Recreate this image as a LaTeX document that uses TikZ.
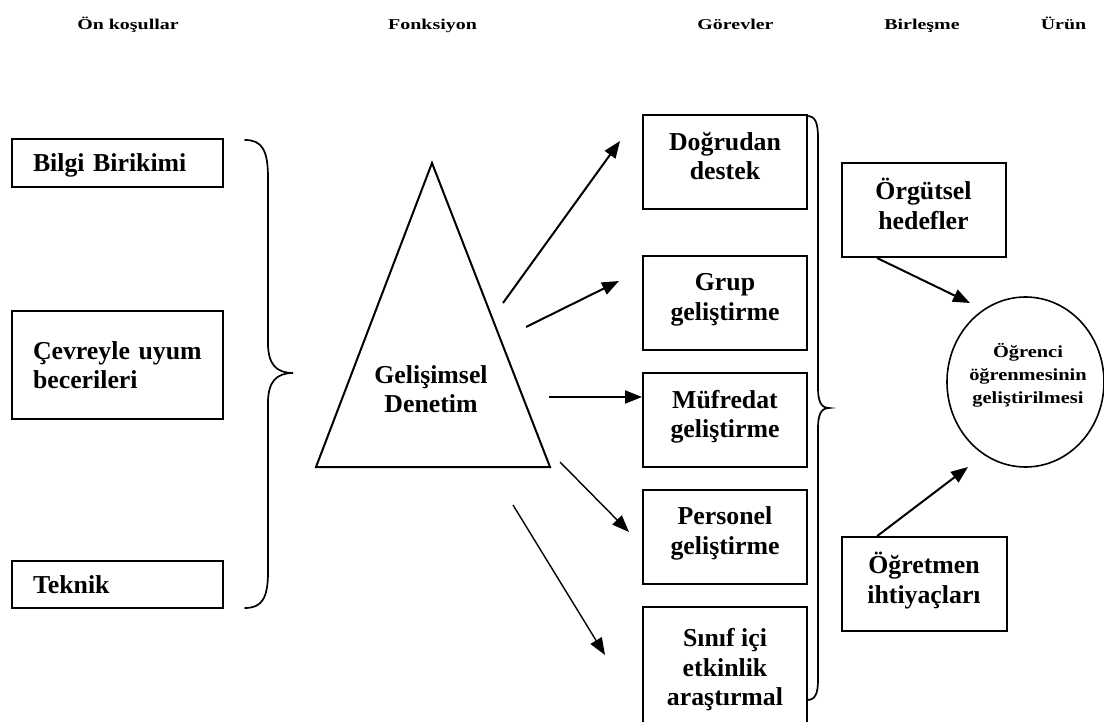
\documentclass[tikz,border=0pt]{standalone}
\usepackage{fontspec}
\setmainfont{Liberation Serif}
\usepackage{graphicx}
\usetikzlibrary{arrows.meta,shapes.geometric,calc}

% type sizes
\newcommand\boxfont{\fontsize{25.8pt}{29.5pt}\selectfont\bfseries}
\newcommand\headfont{\fontsize{15pt}{18pt}\selectfont\bfseries}
\newcommand\goalfont{\fontsize{17pt}{23pt}\selectfont\bfseries}
\newcommand\headwide[1]{\scalebox{1.33}[1]{#1}}
\newcommand\goalwide[1]{\scalebox{1.2}[1]{#1}}
% extra depth on the last line lifts the text block inside its box
\newcommand\lowstrut{\rule[-12pt]{0pt}{12pt}}

\begin{document}
\begin{tikzpicture}[x=1pt,y=-1pt,
  head/.style={font=\headfont, anchor=base, inner sep=0pt},
  frame/.style={draw, line width=2pt, inner sep=0pt, font=\boxfont},
  leftbox/.style={frame, minimum width=211pt, text width=169pt, align=left},
  taskbox/.style={frame, minimum width=164pt, minimum height=94pt, align=center},
  arr/.style={line width=2pt, -{Triangle[length=17pt,width=13pt]}},
  thinarr/.style={arr, line width=1.4pt},
  brace/.style={line width=1.7pt, line cap=round}]

\useasboundingbox (0,0) rectangle (1104,722);
\fill[white] (0,0) rectangle (1104,722);

% column headings
\node[head] (hpre)  at (128,30)    {\headwide{Ön koşullar}};
\node[head] (hfun)  at (432.5,30)  {\headwide{Fonksiyon}};
\node[head] (htask) at (735.5,30)  {\headwide{Görevler}};
\node[head] (hjoin) at (922,30)    {\headwide{Birleşme}};
\node[head] (hprod) at (1063.5,30) {\headwide{Ürün}};

% prerequisites
\node[leftbox, minimum height=48pt, text depth=0pt] (bilgi) at (117.5,163) {Bilgi Birikimi};
\node[leftbox, minimum height=108pt] (cevre) at (117.5,365) {Çevreyle uyum\\becerileri};
\node[leftbox, minimum height=47pt] (teknik) at (117.5,584.5) {Teknik};

% left brace
\draw[brace] (245,140) .. controls (262,140) and (268,150) .. (268,178)
  -- (268,343) .. controls (268,364) and (276,373) .. (293,373)
  .. controls (276,373) and (268,382) .. (268,403)
  -- (268,572) .. controls (268,598) and (262,608) .. (245,608);

% function triangle
\coordinate (apex) at (432,163);
\coordinate (bl) at (316,467);
\coordinate (br) at (550,467);
\draw[line width=2pt, line join=miter] (apex) -- (bl) -- (br) -- cycle;
\node[font=\boxfont, align=center] (func) at (431,389) {Gelişimsel\\Denetim};

% tasks
\node[taskbox] (t1) at (725,162)   {Doğrudan\\destek\lowstrut};
\node[taskbox] (t2) at (725,303)   {Grup\\geliştirme\lowstrut};
\node[taskbox] (t3) at (725,420)   {Müfredat\\geliştirme\lowstrut};
\node[taskbox] (t4) at (725,536.5) {Personel\\geliştirme\lowstrut};
\node[taskbox, minimum height=132pt] (t5) at (725,673) {Sınıf içi\\etkinlik\\araştırmal\lowstrut};

% right brace
\draw[brace] (807,116) .. controls (815,116) and (818,122) .. (818,138)
  -- (818,388) .. controls (818,401) and (821,408) .. (829,408)
  .. controls (821,408) and (818,415) .. (818,428)
  -- (818,680) .. controls (818,694) and (815,700) .. (807,700);

% arrows from the triangle to the tasks
\coordinate (s1) at (503,303); \coordinate (e1) at (620,141);
\coordinate (s2) at (526,327); \coordinate (e2) at (619,281);
\coordinate (s3) at (549,397);
\coordinate (s4) at (560,462); \coordinate (e4) at (629,532);
\coordinate (s5) at (513,505); \coordinate (e5) at (605,655);
\draw[arr] (s1) -- (e1);
\draw[arr] (s2) -- (e2);
\draw[arr] (s3) -- (t3.west |- s3);
\draw[thinarr] (s4) -- (e4);
\draw[thinarr] (s5) -- (e5);

% integration
\node[taskbox] (org)  at (923.5,210) {Örgütsel\\hedefler\lowstrut};
\node[taskbox, minimum width=165pt] (need) at (924,584) {Öğretmen\\ihtiyaçları\lowstrut};

% product
\node[draw, ellipse, line width=1.6pt, minimum width=157pt, minimum height=170pt, inner sep=0pt] (goal) at (1025.5,382) {};
\node[font=\goalfont, align=center] (goaltxt) at (1028,375)
  {\goalwide{Öğrenci}\\\goalwide{öğrenmesinin}\\\goalwide{geliştirilmesi}};

\coordinate (e6) at (970,303);
\coordinate (e7) at (968,467);
\draw[arr] ($(org.south west)!0.22!(org.south east)$) -- (e6);
\draw[arr] ($(need.north west)!0.22!(need.north east)$) -- (e7);

\end{tikzpicture}
\end{document}
